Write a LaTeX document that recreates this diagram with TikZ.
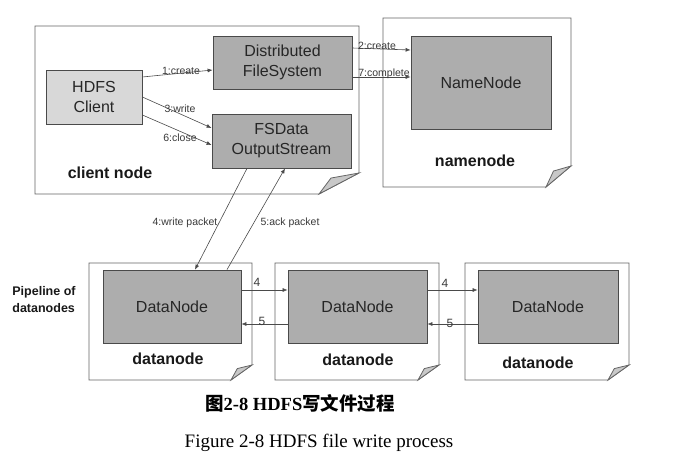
\documentclass[tikz,border=0pt]{standalone}
\usepackage{fontspec}
\setmainfont{Liberation Serif}
\setsansfont{Liberation Sans}
\newfontfamily\cjk{Noto Sans CJK SC}
\usetikzlibrary{arrows.meta}
\definecolor{boxdark}{HTML}{ADADAD}
\definecolor{boxlight}{HTML}{D8D8D8}
\definecolor{flapc}{HTML}{C8C8C8}
\definecolor{edgec}{HTML}{4A4A4A}
\definecolor{lblc}{HTML}{3A3A3A}
\tikzset{
  frame/.style={draw=edgec!85, line width=0.8pt},
  innerbox/.style={draw=edgec, line width=0.8pt, fill=boxdark, font=\sffamily\fontsize{16}{20}\selectfont,
    text=black!85, align=center, inner sep=0pt},
  conn/.style={draw=edgec, line width=0.6pt, -{Latex[length=5pt,width=4pt]}},
  lab/.style={font=\sffamily\fontsize{10.5}{12}\selectfont, text=lblc, inner sep=1pt},
  plab/.style={font=\sffamily\fontsize{12}{14}\selectfont, text=lblc, inner sep=1pt},
  ttl/.style={font=\sffamily\bfseries\fontsize{16}{18}\selectfont, text=black!90, inner sep=0pt},
}
\newcommand\foldpage[6]{%
  \draw[frame, fill=white] (#1,#2) -- (#3,#2) -- (#3,#4-#6) -- (#3-#5,#4) -- (#1,#4) -- cycle;
  \draw[frame, fill=flapc] (#3,#4-#6) -- (#3-#5,#4) -- (#3-0.7*#5,#4-0.76*#6) -- cycle;
}
\begin{document}
\begin{tikzpicture}[x=1pt,y=-1pt]
\useasboundingbox[fill=white] (0,0) rectangle (696,463);

% outer page frames
\foldpage{35}{26}{359}{194}{40}{21}
\foldpage{383}{18}{571}{187}{25}{21}
\foldpage{89}{263}{252}{380}{21}{15}
\foldpage{275}{263}{439}{380}{21}{15}
\foldpage{465}{263}{629}{380}{21}{15}

% inner boxes
\node[innerbox, fill=boxlight, minimum width=96pt, minimum height=54pt] (hdfs) at (94,97) {HDFS\\Client};
\node[innerbox, minimum width=139pt, minimum height=53pt] (dfs) at (282.5,62.5) {Distributed\\FileSystem};
\node[innerbox, minimum width=139pt, minimum height=54pt] (fsd) at (281.5,141) {FSData\\OutputStream};
\node[innerbox, minimum width=140pt, minimum height=93pt] (nn) at (481,82.5) {NameNode};
\node[innerbox, minimum width=138pt, minimum height=73pt] (dn1) at (172,306.5) {DataNode};
\node[innerbox, minimum width=139pt, minimum height=73pt] (dn2) at (357.5,306.5) {DataNode};
\node[innerbox, minimum width=140pt, minimum height=73pt] (dn3) at (548,306.5) {DataNode};

% titles
\node[ttl] (tclient) at (110,173) {client node};
\node[ttl] (tname) at (475,161) {namenode};
\node[ttl] (td1) at (168,359) {datanode};
\node[ttl] (td2) at (358,360) {datanode};
\node[ttl] (td3) at (538,363) {datanode};
\node[font=\sffamily\bfseries\fontsize{12.5}{17}\selectfont, align=left, inner sep=0pt, text=black!90] (pipe) at (44,300) {Pipeline of\\datanodes};

% connectors
\draw[conn] ([yshift=20pt]hdfs.east) -- ([yshift=-7.5pt]dfs.west);
\draw[conn] (hdfs.east) -- ([yshift=13pt]fsd.west);
\draw[conn] ([yshift=-18pt]hdfs.east) -- ([yshift=-4pt]fsd.west);
\draw[conn] ([yshift=14.5pt]dfs.east) -- ([yshift=32.5pt]nn.west);
\draw[conn] ([yshift=-14.5pt]dfs.east) -- ([yshift=5.5pt]nn.west);
\draw[conn] ([xshift=-34.5pt]fsd.south) -- ([xshift=23pt]dn1.north);
\draw[conn] ([xshift=55pt]dn1.north) -- ([xshift=3.5pt]fsd.south);
\draw[conn] ([yshift=16.5pt]dn1.east) -- ([yshift=16.5pt]dn2.west);
\draw[conn] ([yshift=-17.5pt]dn2.west) -- ([yshift=-17.5pt]dn1.east);
\draw[conn] ([yshift=16.5pt]dn2.east) -- ([yshift=16.5pt]dn3.west);
\draw[conn] ([yshift=-17.5pt]dn3.west) -- ([yshift=-17.5pt]dn2.east);

% connector labels
\node[lab] (l1) at (181,71) {1:create};
\node[lab] (l3) at (180,109) {3:write};
\node[lab] (l6) at (180,138) {6:close};
\node[lab] (l2) at (377,46) {2:create};
\node[lab] (l7) at (384,74) {7:complete};
\node[lab] (l4w) at (185,223) {4:write packet};
\node[lab] (l5a) at (290,223) {5:ack packet};
\node[plab] (p4a) at (257,282) {4};
\node[plab] (p5a) at (262,321) {5};
\node[plab] (p4b) at (445,283) {4};
\node[plab] (p5b) at (450,323) {5};

% captions
\node[font=\fontsize{18.5}{20}\selectfont\bfseries, inner sep=0pt] (cap1) at (300,403) {{\cjk 图}2-8 HDFS{\cjk 写文件过程}};
\node[font=\fontsize{19}{21}\selectfont, inner sep=0pt] (cap2) at (319,443) {Figure 2-8 HDFS file write process};
\end{tikzpicture}
\end{document}
